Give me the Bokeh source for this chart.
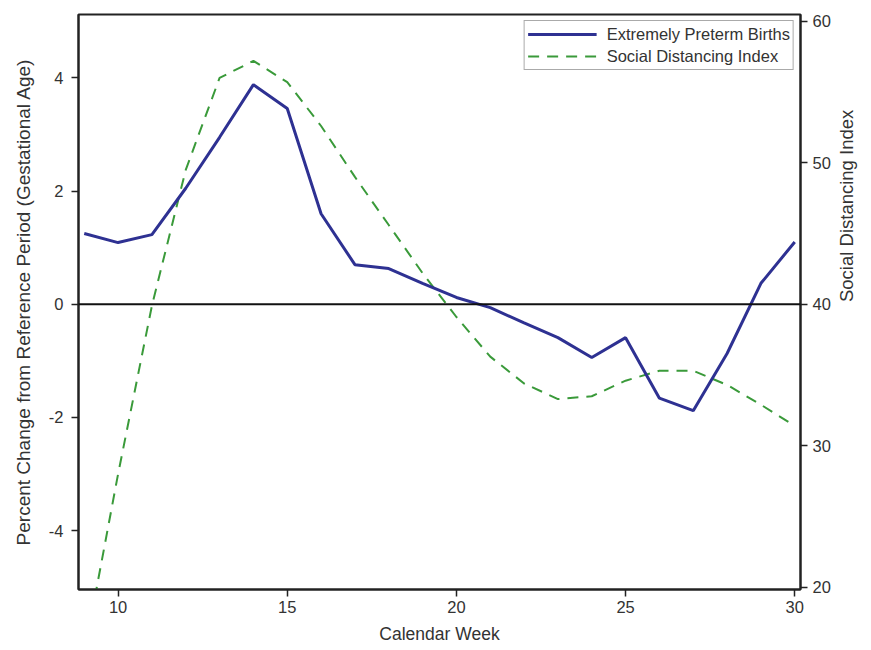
import math
from bokeh.plotting import figure
from bokeh.models import Range1d, LinearAxis, FixedTicker, Span, Legend, LegendItem
from bokeh.embed import file_html
from bokeh.resources import INLINE

weeks = list(range(9, 31))
preterm = [1.25, 1.09, 1.23, 2.05, 2.95, 3.88, 3.46, 1.60, 0.70, 0.63, 0.37, 0.12,
           -0.06, -0.33, -0.59, -0.94, -0.59, -1.66, -1.88, -0.87, 0.37, 1.10]
sdi = [15.3, 28.0, 39.9, 49.5, 56.0, 57.2, 55.7, 52.6, 49.0, 45.6, 42.2, 39.1,
       36.3, 34.4, 33.3, 33.5, 34.6, 35.3, 35.3, 34.3, 32.9, 31.4]

x_ticks = [10, 15, 20, 25, 30]
left_ticks = [-4, -2, 0, 2, 4]
right_ticks = [20, 30, 40, 50, 60]

FONT = "Liberation Sans"
TXT = "#333333"
BLUE = "#2e3192"
GREEN = "#3a9a3a"

p = figure(width=870, height=649, output_backend="svg", toolbar_location=None,
           x_range=Range1d(8.83, 30.17), y_range=Range1d(-5.04, 5.12),
           min_border_left=78, min_border_right=70, min_border_top=14, min_border_bottom=60)
p.extra_y_ranges = {"sdi": Range1d(19.84, 60.48)}

p.grid.visible = False
p.outline_line_color = "#222222"
p.outline_line_width = 2

def style_axis(ax, ticks):
    ax.ticker = FixedTicker(ticks=ticks)
    ax.minor_tick_line_color = None
    ax.major_tick_in = 0
    ax.major_tick_out = 7
    ax.major_tick_line_color = "#222222"
    ax.major_tick_line_width = 1.5
    ax.axis_line_color = "#222222"
    ax.axis_line_width = 2
    ax.major_label_text_font = FONT
    ax.major_label_text_font_size = "16.5px"
    ax.major_label_text_color = TXT
    ax.axis_label_text_font = FONT
    ax.axis_label_text_font_size = "17.5px"
    ax.axis_label_text_font_style = "normal"
    ax.axis_label_text_color = TXT

style_axis(p.xaxis[0], x_ticks)
p.xaxis[0].axis_label = "Calendar Week"
p.xaxis[0].major_label_standoff = 4
p.xaxis[0].axis_label_standoff = 8
style_axis(p.yaxis[0], left_ticks)
p.yaxis[0].axis_label = "Percent Change from Reference Period (Gestational Age)"
p.yaxis[0].axis_label_text_font_size = "19px"
p.yaxis[0].major_label_standoff = 8
p.yaxis[0].axis_label_standoff = 12
p.yaxis[0].major_label_overrides = {t: str(t) for t in left_ticks}

rax = LinearAxis(y_range_name="sdi", axis_label="Social Distancing Index")
style_axis(rax, right_ticks)
rax.major_label_standoff = 5
rax.axis_label_text_font_size = "18.5px"
rax.axis_label_standoff = 13
try:
    rax.axis_label_orientation = math.pi / 2
except Exception:
    pass
p.add_layout(rax, "right")

p.add_layout(Span(location=0, dimension="width", line_color="#111111", line_width=2))

r_sdi = p.line(weeks, sdi, y_range_name="sdi", line_color=GREEN, line_width=2, line_dash="11 8")
r_pre = p.line(weeks, preterm, line_color=BLUE, line_width=3)

legend = Legend(items=[LegendItem(label="Extremely Preterm Births", renderers=[r_pre]),
                       LegendItem(label="Social Distancing Index", renderers=[r_sdi])],
                location="top_right")
legend.label_text_font = FONT
legend.label_text_font_size = "16.5px"
legend.label_text_color = TXT
legend.glyph_width = 69
legend.glyph_height = 20
legend.label_height = 20
legend.spacing = 2
legend.padding = 3
legend.margin = 6
legend.label_standoff = 10
legend.border_line_color = "#555555"
legend.border_line_width = 1.5
legend.background_fill_alpha = 1
p.add_layout(legend)

open("out.html", "w").write(file_html(p, INLINE))
